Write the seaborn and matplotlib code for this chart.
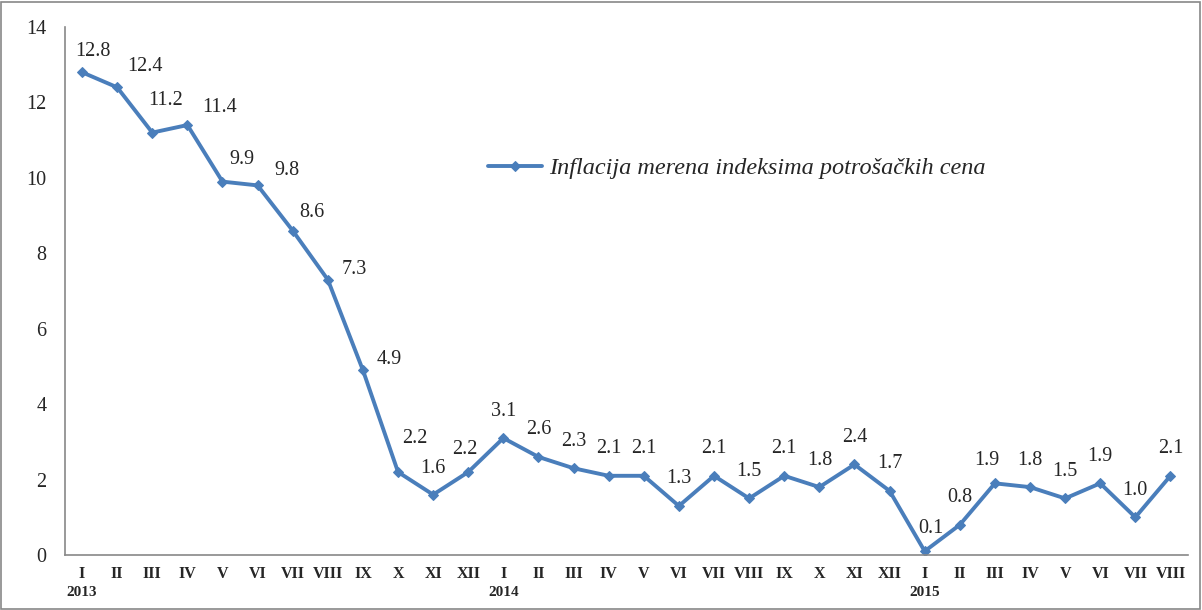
import numpy as np
import pandas as pd
import matplotlib
matplotlib.use("Agg")
import matplotlib.pyplot as plt
import matplotlib.transforms as mtransforms
from matplotlib.patches import Rectangle
import seaborn as sns

# podaci
months = ["I", "II", "III", "IV", "V", "VI", "VII", "VIII", "IX", "X", "XI", "XII",
          "I", "II", "III", "IV", "V", "VI", "VII", "VIII", "IX", "X", "XI", "XII",
          "I", "II", "III", "IV", "V", "VI", "VII", "VIII"]
inflation = [12.8, 12.4, 11.2, 11.4, 9.9, 9.8, 8.6, 7.3, 4.9, 2.2, 1.6, 2.2,
             3.1, 2.6, 2.3, 2.1, 2.1, 1.3, 2.1, 1.5, 2.1, 1.8, 2.4, 1.7,
             0.1, 0.8, 1.9, 1.8, 1.5, 1.9, 1.0, 2.1]
years = ["2013", "2014", "2015"]
year_pos = [0, 12, 24]
y_ticks = [0, 2, 4, 6, 8, 10, 12, 14]
series_name = "Inflacija merena indeksima potrošačkih cena"

# pomeraj oznaka (u pikselima), rucno namesteno kao u originalu
label_shift = {0: (11, 21), 1: (28, 21), 2: (13, 32), 3: (32, 18), 4: (19, 22),
               5: (29, 15), 6: (19, 18), 7: (26, 10), 8: (26, 11), 9: (17, 34),
               10: (0, 26), 11: (-3, 23), 24: (6, 23), 26: (-8, 23)}

df = pd.DataFrame({"pos": np.arange(len(inflation)), "val": inflation})

sns.set_style("white")
plt.rcParams["font.family"] = ["Liberation Serif", "DejaVu Serif"]

fig = plt.figure(figsize=(12.02, 6.10), dpi=100)
ax = fig.add_axes([64.5 / 1202, 55 / 610, (1188 - 64.5) / 1202, (555 - 27) / 610])

color = "#4A7EBB"
sns.lineplot(data=df, x="pos", y="val", ax=ax, color=color, linewidth=2.8,
             marker="D", markersize=5.5, markeredgecolor=color, label=series_name)

# oznake vrednosti
for x, v in zip(df["pos"], df["val"]):
    dx, dy = label_shift.get(x, (0, 27))
    ax.annotate(f"{v:.1f}", (x, v), xytext=(dx, dy), textcoords="offset pixels",
                ha="center", va="center", fontsize=14.5)

ax.set_xlim(-0.5, len(inflation) - 0.5)
ax.set_ylim(0, 14)
ax.set_yticks(y_ticks)
ax.set_yticklabels([str(t) for t in y_ticks], fontsize=14.5)
ax.set_xticks(np.arange(len(inflation) + 1) - 0.5)
ax.set_xticklabels([])
ax.set_xticks(np.arange(len(inflation)), minor=True)
ax.set_xticklabels(months, minor=True, fontsize=11.5, fontweight="bold")
ax.tick_params(axis="x", which="minor", length=0, pad=8)
ax.tick_params(axis="x", which="major", length=5, color="#888888", direction="out")
ax.tick_params(axis="y", length=5, color="#888888", direction="out", pad=8)
ax.set_xlabel("")
ax.set_ylabel("")

for s in ["top", "right"]:
    ax.spines[s].set_visible(False)
for s in ["left", "bottom"]:
    ax.spines[s].set_color("#888888")
    ax.spines[s].set_linewidth(1.2)

# godine ispod meseci
trans = mtransforms.blended_transform_factory(ax.transData, fig.transFigure)
for p, y in zip(year_pos, years):
    ax.text(p, 18 / 610, y, transform=trans, ha="center", va="center",
            fontsize=11, fontweight="bold")

leg = ax.legend(loc="center left", bbox_to_anchor=(402 / 1124, (555 - 168) / 528),
                frameon=False, handlelength=2.2, handletextpad=0.3,
                prop={"family": ["Liberation Serif"], "style": "italic", "size": 17.5})

# okvir oko slike
fig.patches.append(Rectangle((1 / 1202, 1 / 610), 1199 / 1202, 607 / 610,
                             transform=fig.transFigure, fill=False,
                             edgecolor="#888888", linewidth=1.2))

plt.savefig("out.png", dpi=100)
plt.close()
